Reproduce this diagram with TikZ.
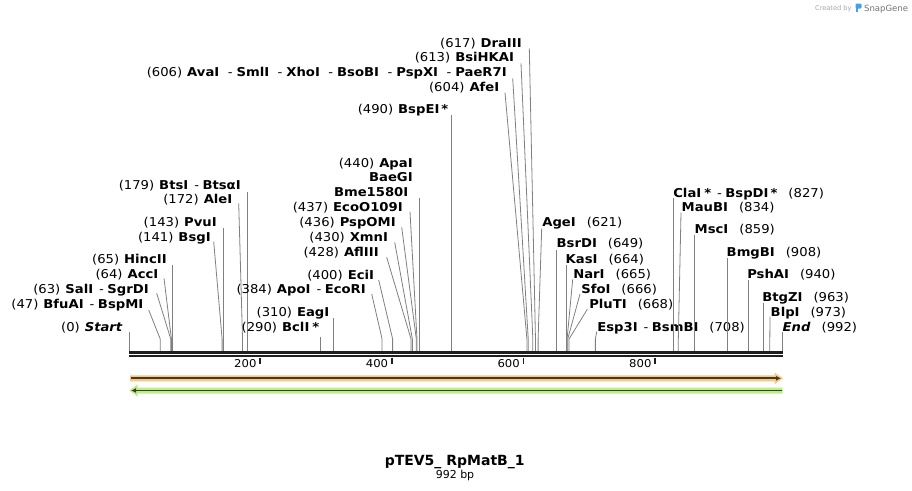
\documentclass[tikz,border=0pt]{standalone}
\usepackage{fontspec}
\setmainfont{DejaVu Sans}
\newfontfamily\lblfont{DejaVu Sans}[FakeStretch=1.08]
\usetikzlibrary{arrows.meta}
\definecolor{connc}{RGB}{128,128,128}
\definecolor{barc}{RGB}{30,30,30}
\definecolor{orangefill}{RGB}{250,200,125}
\definecolor{greenfill}{RGB}{188,240,135}
\definecolor{darkline}{RGB}{62,58,52}
\definecolor{snapblue}{RGB}{70,160,225}
\tikzset{
  lbl/.style={inner sep=0pt, outer sep=0pt, font=\lblfont\fontsize{12.2}{14}\selectfont},
  conn/.style={draw=connc, line width=0.8pt},
  barline/.style={draw=barc},
  scalelbl/.style={inner sep=0pt, font=\lblfont\fontsize{10.8}{12}\selectfont, anchor=base east},
}
\newcommand\Lt[2]{#1\hspace{5pt}\textbf{#2}}
\newcommand\Rt[2]{\textbf{#1}\hspace{11pt}#2}
\newcommand\sepd{\hspace{6pt}{\mdseries -}\hspace{3.5pt}}
\newcommand\sepw{\hspace{8.5pt}{\mdseries -}\hspace{4pt}}
% vertical site: id, anchor, x, y, text, starty, pos
\newcommand\vsite[7]{%
  \node[lbl,anchor=#2] (#1) at (#3,#4) {#5};
  \coordinate (#1-s) at ({129.3+0.6583*#7},#6);
  \coordinate (#1-b) at ({129.3+0.6583*#7},351);
  \draw[conn] (#1-s) -- (#1-b);
}
% slanted site: id, anchor, x, y, text, startx, starty, pos
\newcommand\ssite[8]{%
  \node[lbl,anchor=#2] (#1) at (#3,#4) {#5};
  \coordinate (#1-s) at (#6,#7);
  \coordinate (#1-k) at ({129.3+0.6583*#8},339);
  \coordinate (#1-b) at ({129.3+0.6583*#8},351);
  \draw[conn] (#1-s) -- (#1-k) -- (#1-b);
}
\begin{document}
\begin{tikzpicture}[x=1pt,y=-1pt]
\fill[white] (0,0) rectangle (912,490);
\useasboundingbox (0,0) rectangle (912,490);

% left group
\vsite{btsi}{base east}{240.7}{189.3}{\Lt{(179)}{BtsI\sepd BtsαI}}{191.7}{179}
\ssite{alei}{base east}{232.3}{203.3}{\Lt{(172)}{AleI}}{238.7}{203.3}{172}
\vsite{pvui}{base east}{216.7}{226}{\Lt{(143)}{PvuI}}{228.3}{143}
\ssite{bsgi}{base east}{210.7}{241}{\Lt{(141)}{BsgI}}{213.7}{241.7}{141}
\vsite{hincii}{base east}{166.7}{263.6}{\Lt{(65)}{HincII}}{265}{65}
\ssite{acci}{base east}{158.3}{278.6}{\Lt{(64)}{AccI}}{164}{278.3}{64}
\ssite{sali}{base east}{148.7}{293.3}{\Lt{(63)}{SalI\sepd SgrDI}}{156.7}{293.3}{63}
\ssite{bfuai}{base east}{143.3}{308.3}{\Lt{(47)}{BfuAI\sepd BspMI}}{148.7}{310}{47}
\vsite{startl}{base east}{122.7}{331}{\Lt{(0)}{\itshape Start}}{331.7}{0}

% middle group
\node[lbl,anchor=base east] (apai) at (412.7,167) {\Lt{(440)}{ApaI}};
\node[lbl,anchor=base east] (baegi) at (412.7,181.6) {\textbf{BaeGI}};
\vsite{bme}{base east}{408.3}{196.6}{\textbf{Bme1580I}}{198.3}{440}
\ssite{ecoo}{base east}{402.7}{211.6}{\Lt{(437)}{EcoO109I}}{410}{211.7}{437}
\ssite{pspomi}{base east}{395.7}{226}{\Lt{(436)}{PspOMI}}{401.7}{227.3}{436}
\ssite{xmni}{base east}{388}{241.6}{\Lt{(430)}{XmnI}}{394.7}{242.3}{430}
\ssite{afliii}{base east}{378.7}{256}{\Lt{(428)}{AflIII}}{386.7}{257.3}{428}
\ssite{ecii}{base east}{374}{279.3}{\Lt{(400)}{EciI}}{378.7}{280}{400}
\ssite{apoi}{base east}{365.7}{293.3}{\Lt{(384)}{ApoI\sepd EcoRI}}{371.7}{294}{384}
\vsite{eagi}{base east}{329.3}{316.6}{\Lt{(310)}{EagI}}{318.3}{310}
\vsite{bcli}{base east}{319.3}{331}{\Lt{(290)}{BclI\hspace{3pt}*}}{336.7}{290}

% top group
\ssite{draiii}{base east}{521.7}{47}{\Lt{(617)}{DraIII}}{529.3}{48.3}{617}
\ssite{bsihkai}{base east}{514}{61.6}{\Lt{(613)}{BsiHKAI}}{521}{63.3}{613}
\ssite{avai}{base east}{506.7}{76.6}{\Lt{(606)}{AvaI\sepw SmlI\sepw XhoI\sepw BsoBI\sepw PspXI\sepw PaeR7I}}{512.7}{78.3}{606}
\ssite{afei}{base east}{499.3}{91.6}{\Lt{(604)}{AfeI}}{505}{92.7}{604}
\vsite{bspei}{base east}{448.3}{113.3}{\Lt{(490)}{BspEI\hspace{2pt}*}}{115}{490}

% right group
\ssite{agei}{base west}{542.3}{226.6}{\Rt{AgeI}{(621)}}{541.7}{228.3}{621}
\vsite{bsrdi}{base west}{556.7}{247.6}{\Rt{BsrDI}{(649)}}{250}{649}
\vsite{kasi}{base west}{565.7}{263.3}{\Rt{KasI}{(664)}}{265}{664}
\ssite{nari}{base west}{573.3}{278.3}{\Rt{NarI}{(665)}}{572.7}{279.3}{665}
\ssite{sfoi}{base west}{581.3}{293.3}{\Rt{SfoI}{(666)}}{580}{294}{666}
\ssite{pluti}{base west}{589.3}{308.3}{\Rt{PluTI}{(668)}}{587.3}{309.3}{668}
\ssite{esp3i}{base west}{597.3}{331}{\Rt{Esp3I\sepd BsmBI}{(708)}}{596.7}{331.7}{708}
\vsite{clai}{base west}{673.3}{197}{\Rt{ClaI\hspace{3pt}*\sepd BspDI\hspace{2pt}*}{(827)}}{198.3}{827}
\ssite{maubi}{base west}{681.7}{211.6}{\Rt{MauBI}{(834)}}{681}{212.7}{834}
\vsite{msci}{base west}{694.7}{233.6}{\Rt{MscI}{(859)}}{235}{859}
\vsite{bmgbi}{base west}{726.7}{256.3}{\Rt{BmgBI}{(908)}}{258.3}{908}
\vsite{pshai}{base west}{747.3}{278.6}{\Rt{PshAI}{(940)}}{280}{940}
\vsite{btgzi}{base west}{762.3}{301.6}{\Rt{BtgZI}{(963)}}{302.7}{963}
\ssite{blpi}{base west}{770.7}{316.6}{\Rt{BlpI}{(973)}}{770}{316.7}{973}
\vsite{endl}{base west}{782.7}{331.6}{\Rt{\itshape End}{(992)}}{331.7}{992}

% sequence bar
\draw[barline, line width=2.5pt] (129.3,352.3) -- (782.7,352.3);
\draw[barline, line width=2.3pt] (129.3,356.2) -- (782.7,356.2);

% scale ticks
\foreach \p/\nm in {200/t2,400/t4,600/t6,800/t8}{
  \draw[barc, line width=1.8pt] ({128.6+0.6583*\p},357.5) -- ({128.6+0.6583*\p},364);
  \node[scalelbl] (\nm) at ({125+0.6583*\p},367) {\p};
}

% forward feature (orange)
\fill[orangefill] (130,375.3) -- (774.5,375.3) -- (774.5,372.5) -- (783,378.3)
  -- (774.5,384.1) -- (774.5,381.3) -- (130,381.3) -- cycle;
\draw[darkline, line width=1.8pt, -{Latex[length=5pt,width=5pt]}] (131,378.3) -- (781,378.3);

% reverse feature (green)
\fill[greenfill] (782.7,387.5) -- (137.5,387.5) -- (137.5,384.5) -- (129.3,390.5)
  -- (137.5,396.5) -- (137.5,393.5) -- (782.7,393.5) -- cycle;
\draw[darkline, line width=1.8pt, -{Latex[length=5pt,width=5pt]}] (782,390.5) -- (131,390.5);

% title
\node[inner sep=0pt, anchor=base, font=\fontsize{14}{16}\selectfont\bfseries] (title) at (454.7,465) {pTEV5\_ RpMatB\_1};
\node[inner sep=0pt, anchor=base, font=\fontsize{11}{13}\selectfont] (len) at (455,478.5) {992 bp};

% watermark
\node[inner sep=0pt, anchor=base west, font=\fontsize{6.6}{8}\selectfont, text=black!35] (cby) at (815,10) {Created by};
\fill[snapblue, rounded corners=1.2pt] (855.5,3.5) rectangle (861.5,8.5);
\fill[snapblue] (855.5,6) rectangle (858,11.7);
\node[inner sep=0pt, anchor=base west, font=\fontsize{8.5}{10}\selectfont, text=black!55] (sg) at (864,11) {SnapGene};
\end{tikzpicture}
\end{document}
